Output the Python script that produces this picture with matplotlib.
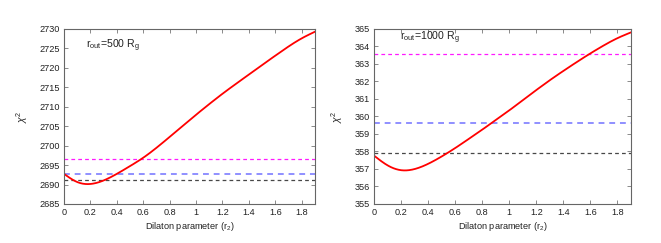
import matplotlib
matplotlib.use("Agg")
import matplotlib.pyplot as plt
import numpy as np

plt.rcParams['font.family'] = ['Liberation Sans', 'DejaVu Sans']
plt.rcParams['mathtext.fontset'] = 'custom'
plt.rcParams['mathtext.rm'] = 'Liberation Sans'
plt.rcParams['mathtext.it'] = 'Liberation Sans:italic'

r2 = [0.0, 0.1, 0.2, 0.3, 0.4, 0.5, 0.6, 0.7, 0.8, 0.9, 1.0, 1.1, 1.2, 1.3, 1.4, 1.5, 1.6, 1.7, 1.8, 1.9]
chi_500 = [2692.75, 2690.65, 2690.15, 2691.05, 2692.75, 2694.75, 2696.9, 2699.45, 2702.25, 2705.1,
           2707.95, 2710.7, 2713.35, 2715.85, 2718.3, 2720.75, 2723.15, 2725.5, 2727.6, 2729.3]
chi_1000 = [357.75, 357.2, 356.93, 357.0, 357.3, 357.72, 358.2, 358.72, 359.25, 359.8,
            360.35, 360.94, 361.51, 362.07, 362.6, 363.11, 363.6, 364.06, 364.47, 364.8]

h_500 = {'magenta': 2696.67, 'blue': 2692.8, 'black': 2691.1}
h_1000 = {'magenta': 363.57, 'blue': 359.63, 'black': 357.91}

fig = plt.figure(figsize=(6.61, 2.43), dpi=100)
axL = fig.add_axes([0.0968, 0.1605, 0.3797, 0.7202])
axR = fig.add_axes([0.5663, 0.1605, 0.3879, 0.7202])

hcolors = {'magenta': '#ff00ff', 'blue': '#6060ff', 'black': '#333333'}


def natural_spline(x, y, xs):
    x = np.asarray(x, float)
    y = np.asarray(y, float)
    n = len(x)
    h = np.diff(x)
    A = np.zeros((n, n))
    b = np.zeros(n)
    A[0, 0] = 1
    A[-1, -1] = 1
    for i in range(1, n - 1):
        A[i, i - 1] = h[i - 1]
        A[i, i] = 2 * (h[i - 1] + h[i])
        A[i, i + 1] = h[i]
        b[i] = 3 * ((y[i + 1] - y[i]) / h[i] - (y[i] - y[i - 1]) / h[i - 1])
    c = np.linalg.solve(A, b)
    bb = (y[1:] - y[:-1]) / h - h * (2 * c[:-1] + c[1:]) / 3
    d = (c[1:] - c[:-1]) / (3 * h)
    idx = np.clip(np.searchsorted(x, xs) - 1, 0, n - 2)
    dx = xs - x[idx]
    return y[idx] + bb[idx] * dx + c[idx] * dx ** 2 + d[idx] * dx ** 3


def style(ax, ylim, yticks):
    ax.set_xlim(0, 1.9)
    ax.set_ylim(*ylim)
    ax.set_xticks([0, 0.2, 0.4, 0.6, 0.8, 1.0, 1.2, 1.4, 1.6, 1.8])
    ax.set_xticklabels(['0', '0.2', '0.4', '0.6', '0.8', '1', '1.2', '1.4', '1.6', '1.8'])
    ax.set_yticks(yticks)
    ax.tick_params(direction='in', top=True, right=True, labelsize=6.6, length=3,
                   width=0.6, color='#777777', labelcolor='#222222', pad=3)
    for s in ax.spines.values():
        s.set_color('#666666')
        s.set_linewidth(0.8)
    ax.set_xlabel(r'Dilaton parameter (r$_\mathrm{2}$)', fontsize=6.6, color='#222222', labelpad=2)
    ax.set_ylabel(r'$\chi^\mathrm{2}$', fontsize=7.5, color='#222222', labelpad=7)


def draw(ax, y, h):
    for k in ['magenta', 'blue', 'black']:
        lw = 1.4 if k == 'blue' else 0.9
        ax.axhline(h[k], color=hcolors[k], lw=lw, ls=(0, (3, 2.5)), alpha=0.9 if k != 'blue' else 0.7)
    xs = np.linspace(0, 1.9, 400)
    ax.plot(xs, natural_spline(r2, y, xs), color='#ff0000', lw=1.3)


draw(axL, chi_500, h_500)
style(axL, (2685, 2730), list(range(2685, 2731, 5)))
axL.text(0.17, 2725.6, r'r$_\mathrm{out}$=500 R$_\mathrm{g}$', fontsize=7.6, va='center', color='#222222')

draw(axR, chi_1000, h_1000)
style(axR, (355, 365), list(range(355, 366, 1)))
axR.text(0.19, 364.5, r'r$_\mathrm{out}$=1000 R$_\mathrm{g}$', fontsize=7.6, va='center', color='#222222')

fig.savefig('out.png', dpi=100)
